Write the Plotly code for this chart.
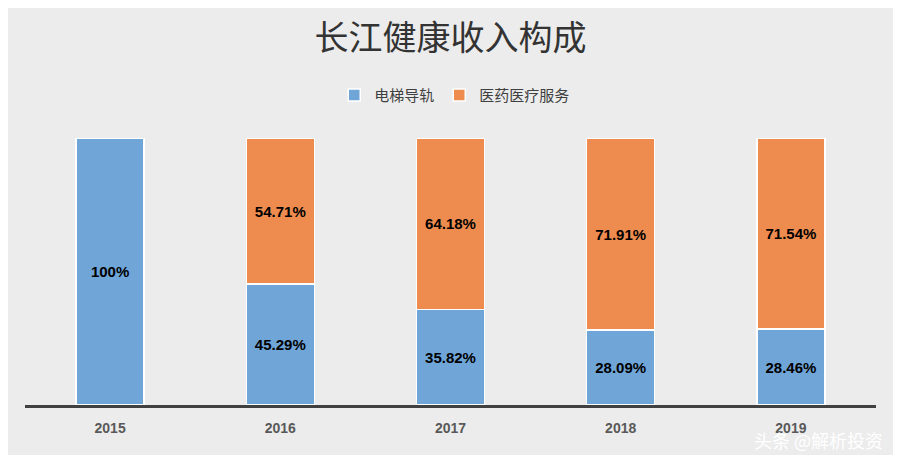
import plotly.graph_objects as go

years = ["2015", "2016", "2017", "2018", "2019"]
elevator = [100, 45.29, 35.82, 28.09, 28.46]
medical = [0, 54.71, 64.18, 71.91, 71.54]
elevator_labels = ["100%", "45.29%", "35.82%", "28.09%", "28.46%"]
medical_labels = ["", "54.71%", "64.18%", "71.91%", "71.54%"]

fig = go.Figure()
fig.add_trace(go.Bar(x=years, y=elevator, name="电梯导轨", marker_color="#6fa5d7",
                     marker_line=dict(color="white", width=1.5),
                     text=elevator_labels, textposition="inside", insidetextanchor="middle",
                     textfont=dict(size=15, color="black", family="Liberation Sans"),
                     texttemplate="<b>%{text}</b>"))
fig.add_trace(go.Bar(x=years, y=medical, name="医药医疗服务", marker_color="#ee8c4f",
                     marker_line=dict(color="white", width=1.5),
                     text=medical_labels, textposition="inside", insidetextanchor="middle",
                     textfont=dict(size=15, color="black", family="Liberation Sans"),
                     texttemplate="<b>%{text}</b>"))

fig.update_layout(
    barmode="stack", bargap=0.6,
    width=901, height=455,
    margin=dict(l=17, r=33, t=130, b=58),
    paper_bgcolor="#ececec", plot_bgcolor="rgba(0,0,0,0)",
    title=dict(text="长江健康收入构成", x=0.5, xref="paper", y=0.96, xanchor="center", yanchor="top",
               font=dict(size=34, color="#333333", family="Noto Sans CJK SC")),
    legend=dict(orientation="h", x=0.505, xanchor="center", y=1.16, yanchor="middle",
                traceorder="normal",
                font=dict(size=15, color="#404040", family="Noto Sans CJK SC")),
    xaxis=dict(showline=True, linecolor="#404040", linewidth=2.5,
               ticks="outside", ticklen=8, tickcolor="rgba(0,0,0,0)",
               tickfont=dict(size=14, color="#595959", family="Liberation Sans"),
               tickprefix="<b>", ticksuffix="</b>"),
    yaxis=dict(range=[0, 100], visible=False),
    showlegend=True,
)
fig.add_annotation(text="头条 @解析投资", xref="paper", yref="paper", x=1.01, y=-0.13,
                   xanchor="right", yanchor="middle", showarrow=False,
                   font=dict(size=18, color="white", family="Noto Sans CJK SC"))
fig.write_html("out.html")
